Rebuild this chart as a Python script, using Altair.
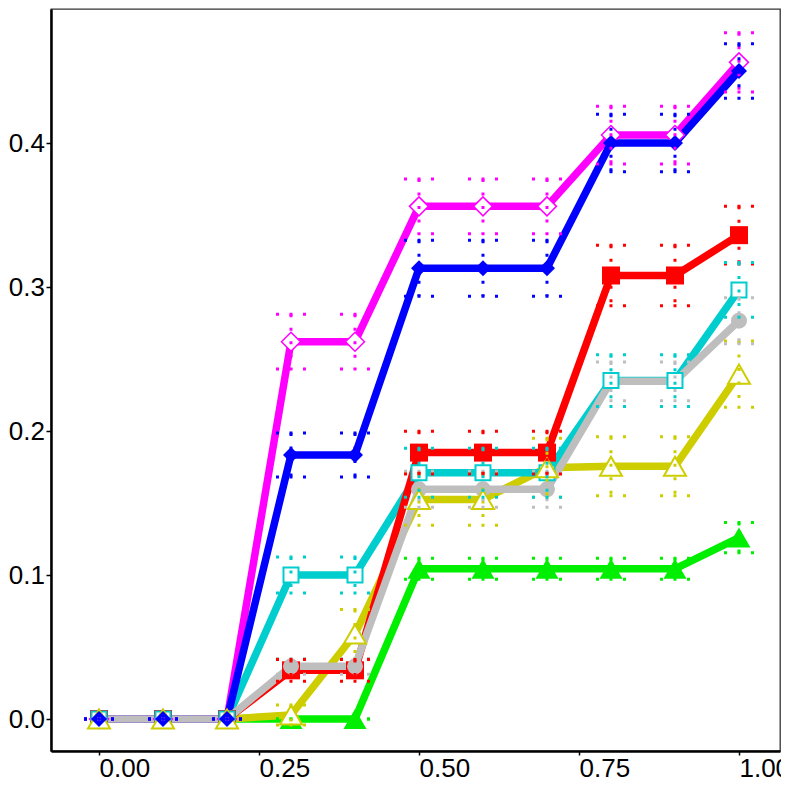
import altair as alt
import pandas as pd

# ---- data ----
x_vals = [0.0, 0.1, 0.2, 0.3, 0.4, 0.5, 0.6, 0.7, 0.8, 0.9, 1.0]

magenta_y = [0, 0, 0, 0.262, 0.262, 0.356, 0.356, 0.356, 0.4055, 0.4055, 0.456]
magenta_e = [0, 0, 0, 0.019, 0.019, 0.019, 0.019, 0.019, 0.020, 0.020, 0.0205]

blue_y = [0, 0, 0, 0.1834, 0.1834, 0.313, 0.313, 0.313, 0.400, 0.400, 0.450]
blue_e = [0, 0, 0, 0.0153, 0.0153, 0.0195, 0.0195, 0.0195, 0.020, 0.020, 0.019]

red_y = [0, 0, 0, 0.0338, 0.0338, 0.185, 0.185, 0.185, 0.308, 0.308, 0.336]
red_e = [0, 0, 0, 0.0075, 0.0075, 0.0148, 0.0148, 0.0148, 0.021, 0.021, 0.020]

cyan_y = [0, 0, 0, 0.100, 0.100, 0.171, 0.171, 0.171, 0.235, 0.235, 0.298]
cyan_e = [0, 0, 0, 0.0125, 0.0125, 0.017, 0.017, 0.017, 0.018, 0.018, 0.019]

grey_y = [0, 0, 0, 0.0366, 0.0366, 0.1595, 0.1595, 0.1595, 0.2345, 0.2345, 0.2766]
grey_e = [0, 0, 0, 0.0055, 0.0055, 0.0125, 0.0125, 0.0125, 0.0135, 0.0135, 0.016]

yellow_y = [0, 0, 0, 0.0028, 0.059, 0.1525, 0.1525, 0.1745, 0.1755, 0.1755, 0.2395]
yellow_e = [0, 0, 0, 0.007, 0.017, 0.018, 0.018, 0.0205, 0.0205, 0.0205, 0.023]

green_y = [0, 0, 0, 0, 0, 0.1043, 0.1043, 0.1043, 0.1043, 0.1043, 0.126]
green_e = [0, 0, 0, 0, 0, 0.0073, 0.0073, 0.0073, 0.0073, 0.0073, 0.0105]

x_ticks = [0.0, 0.25, 0.5, 0.75, 1.0]
y_ticks = [0.0, 0.1, 0.2, 0.3, 0.4]

series_data = {
    "magenta": (magenta_y, magenta_e),
    "blue": (blue_y, blue_e),
    "red": (red_y, red_e),
    "cyan": (cyan_y, cyan_e),
    "grey": (grey_y, grey_e),
    "yellow": (yellow_y, yellow_e),
    "green": (green_y, green_e),
}

# ---- styles ----
style = {
    "magenta": dict(color="#FF00FF", shape="diamond", size=361, open=True, sw=1.5),
    "blue": dict(color="#0000FF", shape="diamond", size=256, open=False, sw=0),
    "red": dict(color="#FF0000", shape="square", size=324, open=False, sw=0),
    "cyan": dict(color="#00CDCD", shape="square", size=225, open=True, sw=2),
    "grey": dict(color="#BEBEBE", shape="circle", size=256, open=False, sw=0),
    "yellow": dict(color="#CDCD00", shape="triangle-up", size=484, open=True, sw=2),
    "green": dict(color="#00EE00", shape="triangle-up", size=529, open=False, sw=0),
}

rows = []
for name, (ys, es) in series_data.items():
    for xv, yv, ev in zip(x_vals, ys, es):
        rows.append({"s": name, "x": xv, "y": yv, "lo": yv - ev, "hi": yv + ev})
df = pd.DataFrame(rows)

FONT = "Liberation Sans"
x_scale = alt.Scale(domain=[-0.075, 1.0641], nice=False, zero=False)
y_scale = alt.Scale(domain=[-0.02222, 0.49306], nice=False, zero=False)

x_axis = alt.Axis(values=x_ticks, format=".2f", title=None, grid=False,
                  labelAlign="left", labelFlush=False, labelOverlap=False,
                  labelFontSize=26, labelFont=FONT, labelColor="black",
                  labelPadding=0, tickSize=4, tickWidth=1.5, tickColor="black",
                  domainColor="black", domainWidth=2.5)
y_axis = alt.Axis(values=y_ticks, format=".1f", title=None, grid=False,
                  labelFlush=False, labelOverlap=False,
                  labelFontSize=26, labelFont=FONT, labelColor="black",
                  labelPadding=1.5, tickSize=5, tickWidth=1.5, tickColor="black",
                  domainColor="black", domainWidth=2.5)

X = alt.X("x:Q", scale=x_scale, axis=x_axis)
Y = alt.Y("y:Q", scale=y_scale, axis=y_axis)

base = alt.Chart(df)

line_order = ["green", "yellow", "cyan", "red", "magenta", "blue", "grey"]
point_order = ["green", "red", "grey", "magenta", "cyan", "yellow", "blue"]
err_order = ["green", "yellow", "grey", "red", "cyan", "magenta", "blue"]

layers = []
for name in line_order:
    st = style[name]
    layers.append(
        base.transform_filter(alt.datum.s == name)
        .mark_line(color=st["color"], strokeWidth=7.5, strokeJoin="round")
        .encode(x=X, y=Y)
    )

for name in point_order:
    st = style[name]
    if st["open"]:
        mk = base.mark_point(shape=st["shape"], size=st["size"], filled=True,
                             fill="white", stroke=st["color"],
                             strokeWidth=st["sw"], opacity=1)
    else:
        mk = base.mark_point(shape=st["shape"], size=st["size"], filled=True,
                             fill=st["color"], opacity=1, strokeWidth=0)
    layers.append(mk.transform_filter(alt.datum.s == name).encode(x=X, y=Y))

DASH = [3, 10.5]
for name in err_order:
    st = style[name]
    b = base.transform_filter(alt.datum.s == name)
    layers.append(
        b.mark_rule(color=st["color"], strokeWidth=3, strokeDash=DASH, strokeCap="butt")
        .encode(x=X, y=alt.Y("hi:Q", scale=y_scale, axis=y_axis), y2="lo:Q")
    )
    for fld in ["hi", "lo"]:
        layers.append(
            b.mark_rule(color=st["color"], strokeWidth=3, strokeDash=DASH,
                        strokeCap="butt", xOffset=-15, x2Offset=15)
            .encode(x=X, x2="x:Q", y=alt.Y(f"{fld}:Q", scale=y_scale, axis=y_axis))
        )

chart = (
    alt.layer(*layers)
    .properties(width=729, height=742,
                padding={"left": 43, "top": 1, "right": 1, "bottom": 30},
                autosize=alt.AutoSizeParams(type="none"),
                background="white")
    .configure_view(stroke="#333333", strokeWidth=1.3)
)

chart.save("out.html", embed_options={"renderer": "svg", "actions": False})
